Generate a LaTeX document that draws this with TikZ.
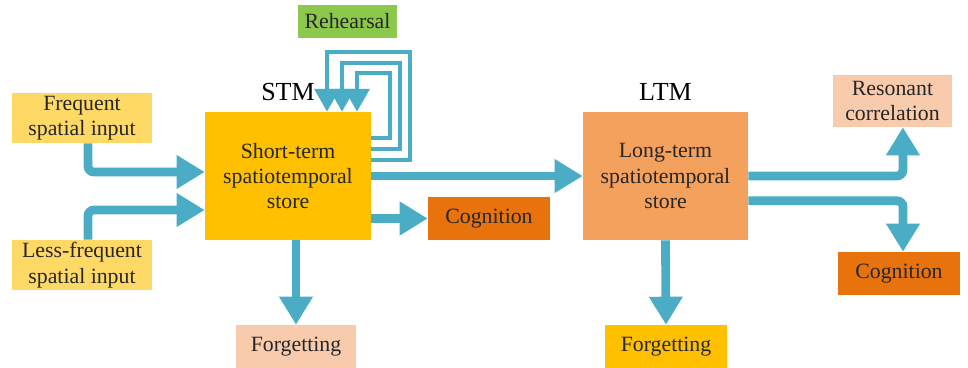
\documentclass[tikz,border=0pt]{standalone}
\usepackage{fontspec}
\setmainfont{Liberation Serif}
\usetikzlibrary{arrows.meta,positioning,calc}

\definecolor{flowblue}{HTML}{4BACC6}
\definecolor{stmgold}{HTML}{FFC000}
\definecolor{inputgold}{HTML}{FFD966}
\definecolor{cogorange}{HTML}{E8720C}
\definecolor{ltmorange}{HTML}{F4A15D}
\definecolor{peach}{HTML}{F8CBAD}
\definecolor{rehgreen}{HTML}{8CC84B}

\begin{document}
\begin{tikzpicture}[x=0.025cm,y=-0.025cm,node distance=1.5mm]
            \tikzstyle{box} = [rectangle,inner sep=0pt,align=center,text=black!85,font=\fontsize{15.5}{18}\selectfont]
            \tikzstyle{flow} = [draw=flowblue,line width=2.2mm,rounded corners=1.5mm,-{Triangle[width=8mm,length=7mm]}]
            \tikzstyle{rehearse} = [draw=flowblue,line width=1mm,-{Triangle[width=6.2mm,length=5.7mm]}]

            \useasboundingbox (0,0) rectangle (968,368);

            % stores
            \node[box,fill=stmgold,minimum width=4.15cm,minimum height=3.2cm] (stm) at (288,176) {Short-term\\spatiotemporal\\store};
            \node[box,fill=ltmorange,minimum width=4.125cm,minimum height=3.2cm] (ltm) at (665.5,176) {Long-term\\spatiotemporal\\store};
            \node[font=\fontsize{18.5}{20}\selectfont] (stm-label) [above=of stm] {STM};
            \node[font=\fontsize{18.5}{20}\selectfont] (ltm-label) [above=of ltm] {LTM};

            % inputs and outputs
            \node[box,fill=inputgold,minimum width=3.5cm,minimum height=1.25cm] (freq) at (82,118) {Frequent\\spatial input};
            \node[box,fill=inputgold,minimum width=3.5cm,minimum height=1.25cm] (less) at (82,265) {Less-frequent\\spatial input};
            \node[box,fill=rehgreen,minimum width=2.475cm,minimum height=0.825cm] (rehearsal) at (347.5,21.5) {Rehearsal};
            \node[box,fill=cogorange,minimum width=3.05cm,minimum height=1.075cm] (cog1) at (489,218.5) {Cognition};
            \node[box,fill=peach,minimum width=3cm,minimum height=1.075cm] (forg1) at (296,346.5) {Forgetting};
            \node[box,fill=stmgold,minimum width=3.05cm,minimum height=1.075cm] (forg2) at (666,346.5) {Forgetting};
            \node[box,fill=peach,minimum width=2.975cm,minimum height=1.3cm] (res) at (892.5,101) {Resonant\\correlation};
            \node[box,fill=cogorange,minimum width=3.05cm,minimum height=1.075cm] (cog2) at (899,273.5) {Cognition};

            % rehearsal loops
            \draw[rehearse] (stm.east |- 0,160) -| (410,52) -| (stm.north -| 327,0);
            \draw[rehearse] (stm.east |- 0,149) -| (400,63) -| (stm.north -| 342,0);
            \draw[rehearse] (stm.east |- 0,138) -| (390,73) -| (stm.north -| 357,0);

            % flows
            \draw[flow] ([xshift=1.5mm]freq.south) |- ([yshift=1mm]stm.west);
            \draw[flow] ([xshift=1.5mm]less.north) |- ([yshift=-8.5mm]stm.west);
            \draw[flow] (stm.east) -- (ltm.west);
            \draw[flow] (stm.east |- cog1) -- (cog1.west);
            \draw[flow] (stm.south -| forg1) -- (forg1.north);
            \draw[flow] (ltm.south) -- (forg2.north);
            \draw[flow] (ltm.east) -| ([xshift=2.6mm]res.south);
            \draw[flow] ([yshift=-6.2mm]ltm.east) -| ([xshift=1mm]cog2.north);
        \end{tikzpicture}
\end{document}
